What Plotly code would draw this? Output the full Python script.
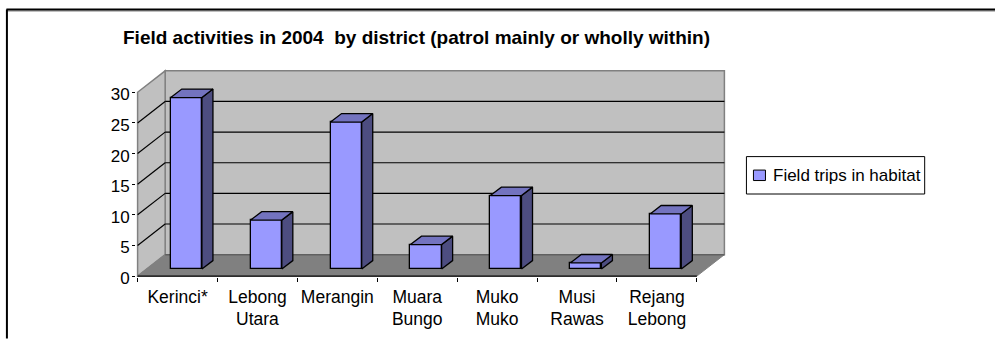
import plotly.graph_objects as go

# ---- data ----
categories = ["Kerinci*", "Lebong<br>Utara", "Merangin", "Muara<br>Bungo",
              "Muko<br>Muko", "Musi<br>Rawas", "Rejang<br>Lebong"]
field_trips = [28, 8, 24, 4, 12, 1, 9]
y_ticks = [0, 5, 10, 15, 20, 25, 30]
series_name = "Field trips in habitat"
title_text = "Field activities in 2004\u00a0 by district (patrol mainly or wholly within)"

# ---- style / layout constants ----
W, H = 995, 339
n = len(categories)
xmax = n
ymax = y_ticks[-1]
X0, Y0 = 138, 276.3                 # pixel of the axis origin
SX, SY = 558.5 / xmax, 184.3 / ymax  # pixels per data unit
FONT = "Liberation Sans, Arial, sans-serif"
DEPTH_X, DEPTH_Y = 27.5 / SX, 21.5 / SY   # wall depth in data units
BAR_W = 0.39
BAR_DX, BAR_BASE = 0.11, 1.14             # bar position inside the depth
SIDE_X, SIDE_Y = 0.138, 1.38              # bar depth in data units
FRONT, SIDE, TOP = "#9999FF", "#4D4D80", "#7373BF"
WALL, FLOOR, EDGE = "#C0C0C0", "#808080", "#808080"

# the plot area also holds the 3-D depth so nothing is clipped
x_range = [-0.02, xmax + DEPTH_X + 0.02]
y_range = [-0.15, ymax + DEPTH_Y + 0.3]
L = X0 + x_range[0] * SX
R = W - (X0 + x_range[1] * SX)
T = Y0 - y_range[1] * SY
B = H - (Y0 - y_range[0] * SY)
PW, PH = W - L - R, H - T - B


def px(x):
    return (x - L) / PW


def py(y):
    return 1 - (y - T) / PH


shapes = []


def poly(points, fill, color=None, width=1, layer="below"):
    path = "M" + " L".join(f"{a},{b}" for a, b in points) + " Z"
    shapes.append(dict(type="path", path=path, xref="x", yref="y", fillcolor=fill,
                       line=dict(color=color or fill, width=width), layer=layer))


def seg(x0, y0, x1, y1, color="#000000", width=1.2):
    shapes.append(dict(type="line", xref="x", yref="y", x0=x0, y0=y0, x1=x1, y1=y1,
                       line=dict(color=color, width=width), layer="below"))


# walls and floor
poly([(DEPTH_X, DEPTH_Y), (xmax + DEPTH_X, DEPTH_Y), (xmax + DEPTH_X, ymax + DEPTH_Y), (DEPTH_X, ymax + DEPTH_Y)], WALL, EDGE, 1.5)
poly([(0, 0), (DEPTH_X, DEPTH_Y), (DEPTH_X, ymax + DEPTH_Y), (0, ymax)], WALL, EDGE, 1.5)
poly([(0, 0), (xmax, 0), (xmax + DEPTH_X, DEPTH_Y), (DEPTH_X, DEPTH_Y)], FLOOR, EDGE, 1)
seg(DEPTH_X, DEPTH_Y, xmax + DEPTH_X, DEPTH_Y, "#606060", 1.5)
seg(0, 0, xmax, 0, "#000000", 1.2)
for v in y_ticks[1:-1]:
    seg(0, v, DEPTH_X, v + DEPTH_Y)
    seg(DEPTH_X, v + DEPTH_Y, xmax + DEPTH_X, v + DEPTH_Y)

# outer frame of the page
shapes.append(dict(type="line", xref="paper", yref="paper", x0=px(7), y0=py(10.5), x1=px(995), y1=py(10.5),
                   line=dict(color="#808080", width=1), layer="above"))
shapes.append(dict(type="line", xref="paper", yref="paper", x0=px(7), y0=py(9), x1=px(995), y1=py(9),
                   line=dict(color="#000000", width=2), layer="above"))
shapes.append(dict(type="line", xref="paper", yref="paper", x0=px(7.5), y0=py(9), x1=px(7.5), y1=py(339),
                   line=dict(color="#000000", width=2), layer="above"))

# hand-placed legend box, as in the reference
shapes.append(dict(type="rect", xref="paper", yref="paper", x0=px(746), y0=py(156.5), x1=px(924), y1=py(194),
                   line=dict(color="#000000", width=1), fillcolor="#FFFFFF", layer="above"))
shapes.append(dict(type="rect", xref="paper", yref="paper", x0=px(753), y0=py(170), x1=px(765), y1=py(180.5),
                   line=dict(color="#000000", width=1), fillcolor=FRONT, layer="above"))

fig = go.Figure()

centres = [i + 0.5 + BAR_DX for i in range(n)]
fig.add_trace(go.Bar(x=centres, y=field_trips, base=[BAR_BASE] * n, width=[BAR_W] * n, name=series_name,
                     marker=dict(color=FRONT, line=dict(color="#000000", width=1.3)),
                     showlegend=False))

for c, v in zip(centres, field_trips):
    x0, x1 = c - BAR_W / 2, c + BAR_W / 2
    y0, y1 = BAR_BASE, BAR_BASE + v
    fig.add_trace(go.Scatter(x=[x1, x1 + SIDE_X, x1 + SIDE_X, x1, x1], y=[y0, y0 + SIDE_Y, y1 + SIDE_Y, y1, y0],
                             mode="lines", fill="toself", fillcolor=SIDE, line=dict(color="#000000", width=1.3),
                             showlegend=False, hoverinfo="skip"))
    fig.add_trace(go.Scatter(x=[x0, x1, x1 + SIDE_X, x0 + SIDE_X, x0], y=[y1, y1, y1 + SIDE_Y, y1 + SIDE_Y, y1],
                             mode="lines", fill="toself", fillcolor=TOP, line=dict(color="#000000", width=1.3),
                             showlegend=False, hoverinfo="skip"))

fig.update_layout(
    width=W, height=H, autosize=False,
    margin=dict(l=L, r=R, t=T, b=B, autoexpand=False, pad=0),
    paper_bgcolor="#FFFFFF", plot_bgcolor="rgba(0,0,0,0)",
    font=dict(family=FONT, size=17, color="#000000"),
    title=dict(text=f"<b>{title_text}</b>", font=dict(family=FONT, size=19, color="#000000"),
               xref="container", x=123 / W, xanchor="left", yref="container", y=1 - 37 / H, yanchor="middle"),
    xaxis=dict(range=x_range, tickmode="array", tickvals=[i + 0.5 for i in range(n)], ticktext=categories,
               ticks="", showgrid=False, zeroline=False, showline=False, ticklabelstandoff=7,
               tickfont=dict(family=FONT, size=17.5),
               minor=dict(tickmode="array", tickvals=list(range(n + 1)), ticks="outside", ticklen=4,
                          tickcolor="#000000", tickwidth=1, showgrid=False)),
    yaxis=dict(range=y_range, tickmode="array", tickvals=y_ticks, ticks="outside", ticklen=3,
               tickcolor="#000000", tickwidth=1, showgrid=False, zeroline=False, showline=False,
               ticklabelstandoff=-1, ticklabelshift=2,
               tickfont=dict(family=FONT, size=17)),
    shapes=shapes,
    annotations=[dict(text=series_name, xref="paper", yref="paper", x=px(770.5), y=py(175.5), xanchor="left",
                      yanchor="middle", showarrow=False, font=dict(family=FONT, size=17, color="#000000"))],
    bargap=0,
)
fig.write_html("out.html", config=dict(displayModeBar=False),
               post_script="document.body.style.margin='0';document.documentElement.style.overflow='hidden';")
